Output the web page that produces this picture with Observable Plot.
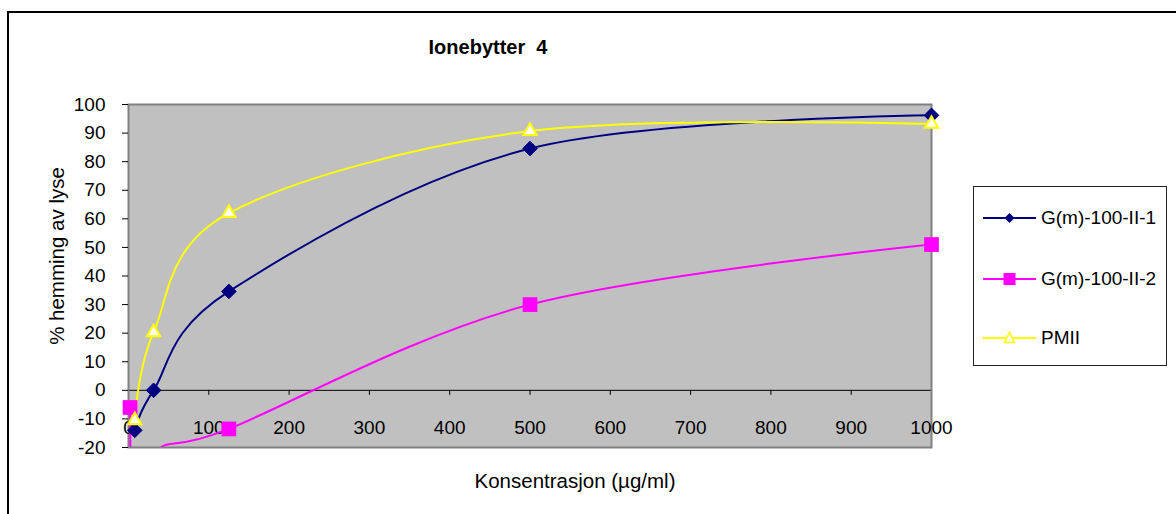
<!DOCTYPE html>
<html>
<head>
<meta charset="utf-8">
<script src="https://cdn.jsdelivr.net/npm/d3@7"></script>
<script src="https://cdn.jsdelivr.net/npm/@observablehq/plot@0.6"></script>
<style>
  body { margin: 0; background: #fff; }
  #chart { position: relative; width: 1176px; height: 514px; overflow: hidden;
           font-family: Arial, "Liberation Sans", sans-serif; color: #000; }
  #outline { position: absolute; left: 7px; top: 11px; width: 1300px; height: 700px;
             border-left: 2px solid #000; border-top: 2px solid #000; }
  #plot { position: absolute; left: 0; top: 0; }
  #legend { position: absolute; left: 973px; top: 186px; width: 194px; height: 180px;
            border: 1px solid #222; background: #fff; box-sizing: border-box; }
  .entry { position: absolute; left: 9px; height: 20px; display: flex; align-items: center; }
  .entry span { margin-left: 5px; font-size: 19px; white-space: nowrap; }
</style>
</head>
<body>
<div id="chart">
  <div id="outline"></div>
  <div id="plot"></div>
  <div id="legend"></div>
</div>
<script>
// Concentrations (µg/ml) per series
const xSeries1 = [7.8, 31.25, 125, 500, 1000];
const xSeries2 = [1.95, 7.8, 31.25, 125, 500, 1000];
const xSeries3 = [7.8, 31.25, 125, 500, 1000];

// % inhibition of lysis
const ySeries1 = [-14, 0, 34.6, 84.6, 96.2];      // G(m)-100-II-1
const ySeries2 = [-6, -60, -23, -13.5, 30, 51];   // G(m)-100-II-2
const ySeries3 = [-10.5, 20.3, 62, 90.7, 93.2];   // PMII

const seriesNames = ["G(m)-100-II-1", "G(m)-100-II-2", "PMII"];
const seriesColors = ["#000080", "#ff00ff", "#ffff00"];

const xTicks = [0, 100, 200, 300, 400, 500, 600, 700, 800, 900, 1000];
const yTicks = [-20, -10, 0, 10, 20, 30, 40, 50, 60, 70, 80, 90, 100];

const chartTitle = "Ionebytter\u00a0 4";
const xTitle = "Konsentrasjon (µg/ml)";
const yTitle = "% hemming av lyse";

const xDomain = [0, 1000];
const yDomain = [-20, 100];

const toRows = (name, xs, ys) => xs.map((x, i) => ({series: name, x, y: ys[i]}));
const rows1 = toRows(seriesNames[0], xSeries1, ySeries1);
const rows2 = toRows(seriesNames[1], xSeries2, ySeries2);
const rows3 = toRows(seriesNames[2], xSeries3, ySeries3);

const inView = d => d.y >= yDomain[0] && d.y <= yDomain[1];
const smooth = {curve: "cardinal", tension: 0, strokeWidth: 2, clip: true};
const font = "Arial, 'Liberation Sans', sans-serif";

const chart = Plot.plot({
  width: 1176,
  height: 514,
  marginLeft: 128,
  marginRight: 245,
  marginTop: 104,
  marginBottom: 67,
  style: {fontFamily: font, color: "#000", background: "transparent", overflow: "visible"},
  x: {domain: xDomain, axis: null},
  y: {domain: yDomain, axis: null},
  marks: [
    Plot.frame({fill: "#c0c0c0"}),
    // category axis drawn along y = 0
    Plot.ruleY([0], {stroke: "#000", strokeWidth: 1}),
    Plot.ruleX(xTicks, {x: d => d, y1: () => 0, y2: () => 0, insetBottom: -5, stroke: "#000"}),
    Plot.frame({stroke: "#808080", strokeWidth: 2}),
    Plot.axisY({ticks: yTicks, tickSize: 6, tickPadding: 17, fontSize: 19, stroke: "#000", label: null,
                tickFormat: d => String(d)}),
    Plot.text(xTicks, {x: d => d, text: d => String(d), frameAnchor: "bottom", dy: -20,
                       lineAnchor: "middle", textAnchor: "middle", fontSize: 19, fill: "#000"}),
    // series curves
    Plot.line(rows2, {x: "x", y: "y", stroke: seriesColors[1], ...smooth}),
    Plot.line(rows1, {x: "x", y: "y", stroke: seriesColors[0], ...smooth}),
    Plot.line(rows3, {x: "x", y: "y", stroke: seriesColors[2], ...smooth}),
    // markers
    Plot.dot(rows2, {x: "x", y: "y", filter: inView, symbol: "square", r: 8.3,
                     fill: seriesColors[1], stroke: "none"}),
    Plot.dot(rows1, {x: "x", y: "y", filter: inView, symbol: "diamond2", r: 6.6,
                     fill: seriesColors[0], stroke: seriesColors[0], strokeWidth: 1}),
    Plot.dot(rows3, {x: "x", y: "y", filter: inView, symbol: "triangle", r: 5,
                     fill: "#fff", stroke: seriesColors[2], strokeWidth: 2}),
    // titles
    Plot.text([chartTitle], {frameAnchor: "top", dx: -42, dy: -57, fontWeight: "bold", fontSize: 20,
                             textAnchor: "middle", lineAnchor: "middle", fill: "#000"}),
    Plot.text([xTitle], {frameAnchor: "bottom", dx: 45, dy: 34, fontSize: 20.5,
                         textAnchor: "middle", lineAnchor: "middle", fill: "#000"}),
    Plot.text([yTitle], {frameAnchor: "left", dx: -71, dy: -20, rotate: -90, fontSize: 20.5,
                         textAnchor: "middle", lineAnchor: "middle", fill: "#000"})
  ]
});
document.getElementById("plot").appendChild(chart);

// Legend entries
const legendSymbols = [
  '<path d="M26.5 5 L31.5 10 L26.5 15 L21.5 10 Z" fill="#000080"/>',
  '<rect x="20.5" y="4" width="12" height="12" fill="#ff00ff"/>',
  '<path d="M26.5 4.5 L31.5 14.5 L21.5 14.5 Z" fill="#fff" stroke="#ffff00" stroke-width="1.6"/>'
];
const legendTops = [21, 82, 141];
const legend = document.getElementById("legend");
seriesNames.forEach((name, i) => {
  const row = document.createElement("div");
  row.className = "entry";
  row.style.top = legendTops[i] + "px";
  row.innerHTML =
    `<svg width="53" height="20"><line x1="0" y1="10" x2="53" y2="10" stroke="${seriesColors[i]}" stroke-width="2"/>${legendSymbols[i]}</svg>` +
    `<span>${name}</span>`;
  legend.appendChild(row);
});
</script>
</body>
</html>
